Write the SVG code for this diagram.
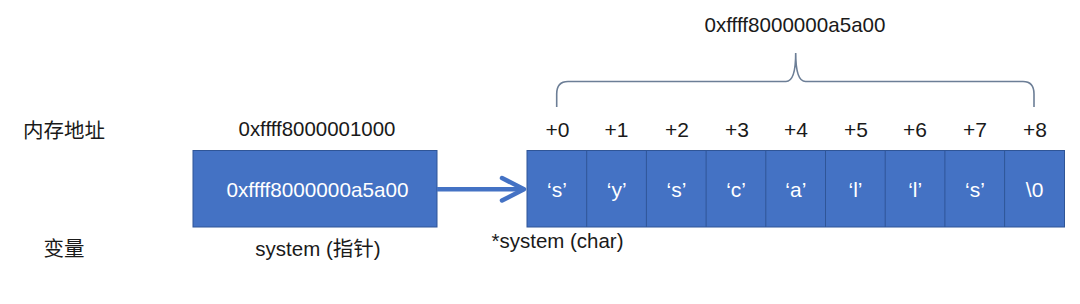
<svg xmlns="http://www.w3.org/2000/svg" width="1080" height="304" viewBox="0 0 1080 304">
<style>
.t{font-family:"Liberation Sans",Arial,"Noto Sans CJK SC",sans-serif;fill:#1a1a1a;}
.w{font-family:"Liberation Sans",Arial,sans-serif;fill:#ffffff;font-size:21px;text-anchor:middle;}
.c{text-anchor:middle;}
.cell{fill:#4472C4;stroke:#2F5597;stroke-width:1;}
.lbl{font-size:21px;text-anchor:middle;}
</style>
<rect width="1080" height="304" fill="#ffffff"/>
<g id="row-labels">
<text class="t" x="23" y="138" font-size="20.5">内存地址</text>
<text class="t c" x="64" y="256" font-size="20.5">变量</text>
</g>
<g id="pointer-node">
<text class="t c" x="317" y="136" font-size="20.5" textLength="157" lengthAdjust="spacingAndGlyphs">0xffff8000001000</text>
<rect class="cell" x="193" y="150.5" width="244" height="76.5"/>
<text class="w" x="317.5" y="197" textLength="182" lengthAdjust="spacingAndGlyphs">0xffff8000000a5a00</text>
<text class="t c" x="318" y="256" font-size="20.5">system (指针)</text>
</g>
<g id="connectors">
<line x1="437" y1="189.3" x2="522" y2="189.3" stroke="#4472C4" stroke-width="4.5"/>
<polyline points="502,178 524,189.3 502,200.5" fill="none" stroke="#4472C4" stroke-width="4.5" stroke-linejoin="round" stroke-linecap="round"/>
</g>
<g id="array-node">
<rect class="cell" x="527" y="150.5" width="537.5" height="76.5"/>
<g stroke="#2F5597" stroke-width="1">
<line x1="586.7" y1="150.5" x2="586.7" y2="227"/>
<line x1="646.4" y1="150.5" x2="646.4" y2="227"/>
<line x1="706.1" y1="150.5" x2="706.1" y2="227"/>
<line x1="765.8" y1="150.5" x2="765.8" y2="227"/>
<line x1="825.5" y1="150.5" x2="825.5" y2="227"/>
<line x1="885.2" y1="150.5" x2="885.2" y2="227"/>
<line x1="944.9" y1="150.5" x2="944.9" y2="227"/>
<line x1="1004.6" y1="150.5" x2="1004.6" y2="227"/>
</g>
<g class="w">
<text x="557" y="197">‘s’</text>
<text x="616.7" y="197">‘y’</text>
<text x="676.4" y="197">‘s’</text>
<text x="736.1" y="197">‘c’</text>
<text x="795.8" y="197">‘a’</text>
<text x="855.5" y="197">‘l’</text>
<text x="915.2" y="197">‘l’</text>
<text x="974.9" y="197">‘s’</text>
<text x="1034.6" y="197">\0</text>
</g>
<g class="t lbl">
<text x="557.5" y="136.5">+0</text>
<text x="616.5" y="136.5">+1</text>
<text x="677" y="136.5">+2</text>
<text x="737" y="136.5">+3</text>
<text x="796" y="136.5">+4</text>
<text x="856" y="136.5">+5</text>
<text x="915" y="136.5">+6</text>
<text x="975" y="136.5">+7</text>
<text x="1035" y="136.5">+8</text>
</g>
<text class="t c" x="557.5" y="248" font-size="20.5" textLength="132" lengthAdjust="spacingAndGlyphs">*system (char)</text>
<path d="M556.7,107 L556.7,94 Q556.7,81.5 568,81.5 L786,81.5 Q795.7,81.5 795.7,53 Q795.7,81.5 805.5,81.5 L1023,81.5 Q1034,81.5 1034,94 L1034,107" fill="none" stroke="#6C7E96" stroke-width="1.6"/>
<text class="t c" x="795" y="31.5" font-size="21" textLength="181" lengthAdjust="spacingAndGlyphs">0xffff8000000a5a00</text>
</g>
</svg>
